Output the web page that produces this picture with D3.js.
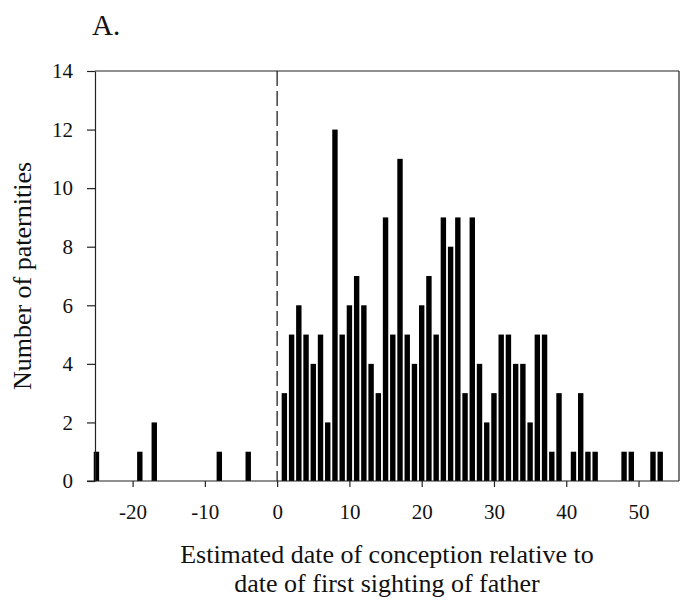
<!DOCTYPE html>
<html>
<head>
<meta charset="utf-8">
<script src="https://cdn.jsdelivr.net/npm/d3@7"></script>
<style>
  html, body { margin: 0; padding: 0; background: #fff; }
  svg { display: block; }
  text { font-family: "Liberation Serif", "Times New Roman", serif; fill: #111; }
</style>
</head>
<body>
<svg id="chart" width="689" height="600"></svg>
<script>
// Day of conception relative to first sighting of father
const days   = [-25, -19, -17, -8, -4,
  1, 2, 3, 4, 5, 6, 7, 8, 9, 10,
  11, 12, 13, 14, 15, 16, 17, 18, 19, 20,
  21, 22, 23, 24, 25, 26, 27, 28, 29, 30,
  31, 32, 33, 34, 35, 36, 37, 38, 39,
  41, 42, 43, 44, 48, 49, 52, 53];
// Number of paternities on each day
const counts = [1, 1, 2, 1, 1,
  3, 5, 6, 5, 4, 5, 2, 12, 5, 6,
  7, 6, 4, 3, 9, 5, 11, 5, 4, 6,
  7, 5, 9, 8, 9, 3, 9, 4, 2, 3,
  5, 5, 4, 4, 2, 5, 5, 1, 3,
  1, 3, 1, 1, 1, 1, 1, 1];
const xTicks = [-20, -10, 0, 10, 20, 30, 40, 50];
const yTicks = [0, 2, 4, 6, 8, 10, 12, 14];
const panelLabel = "A.";
const xTitle = ["Estimated date of conception relative to", "date of first sighting of father"];
const yTitle = "Number of paternities";

const data = days.map((d, i) => ({ day: d, n: counts[i] }));

const svg = d3.select("#chart");
const L = 95, R = 679, T = 71, B = 481;
const serif = '"Liberation Serif", "Times New Roman", serif';

const x = d3.scaleLinear().domain([-25.2, 55.6]).range([L, R]);
const y = d3.scaleLinear().domain([0, 14]).range([B, T]);
const barW = 5.4;
const lineCol = "#222";

// bars
svg.append("g").selectAll("rect").data(data).join("rect")
  .attr("x", d => x(d.day) - barW / 2)
  .attr("width", barW)
  .attr("y", d => y(d.n))
  .attr("height", d => y(0) - y(d.n))
  .attr("fill", "#000");

// dashed line at zero
svg.append("line")
  .attr("x1", x(0)).attr("x2", x(0))
  .attr("y1", T).attr("y2", B)
  .attr("stroke", lineCol).attr("stroke-width", 1.3)
  .attr("stroke-dasharray", "15,5");

// frame: top and right
svg.append("line").attr("x1", L).attr("x2", R).attr("y1", T).attr("y2", T)
  .attr("stroke", lineCol).attr("stroke-width", 1.2);
svg.append("line").attr("x1", R).attr("x2", R).attr("y1", T).attr("y2", B)
  .attr("stroke", lineCol).attr("stroke-width", 1.2);

const fmt = d => String(d);
// x axis
const xAxis = svg.append("g").attr("transform", `translate(0,${B})`)
  .call(d3.axisBottom(x).tickValues(xTicks).tickFormat(fmt)
    .tickSize(6).tickPadding(17).tickSizeOuter(0));
// y axis
const yAxis = svg.append("g").attr("transform", `translate(${L},0)`)
  .call(d3.axisLeft(y).tickValues(yTicks).tickFormat(fmt)
    .tickSize(8).tickPadding(14).tickSizeOuter(0));

[xAxis, yAxis].forEach(g => {
  g.attr("font-family", serif).attr("font-size", 21);
  g.select(".domain").attr("stroke", lineCol).attr("stroke-width", 1.2);
  g.selectAll(".tick line").attr("stroke", lineCol).attr("stroke-width", 1.2);
  g.selectAll(".tick text").attr("fill", "#111");
});
// extend x axis line left to meet the y tick at 0
xAxis.select(".domain").attr("d", `M${L - 8},0H${R}`);

// axis titles
svg.append("text")
  .attr("x", (L + R) / 2).attr("y", 563)
  .attr("text-anchor", "middle").style("font-size", "26px")
  .text(xTitle[0]);
svg.append("text")
  .attr("x", (L + R) / 2).attr("y", 592)
  .attr("text-anchor", "middle").style("font-size", "26px")
  .text(xTitle[1]);
svg.append("text")
  .attr("transform", `translate(31,${(T + B) / 2}) rotate(-90)`)
  .attr("text-anchor", "middle").style("font-size", "26px")
  .text(yTitle);

// panel label
svg.append("text")
  .attr("x", 92).attr("y", 35)
  .style("font-size", "29px")
  .text(panelLabel);
</script>
</body>
</html>
